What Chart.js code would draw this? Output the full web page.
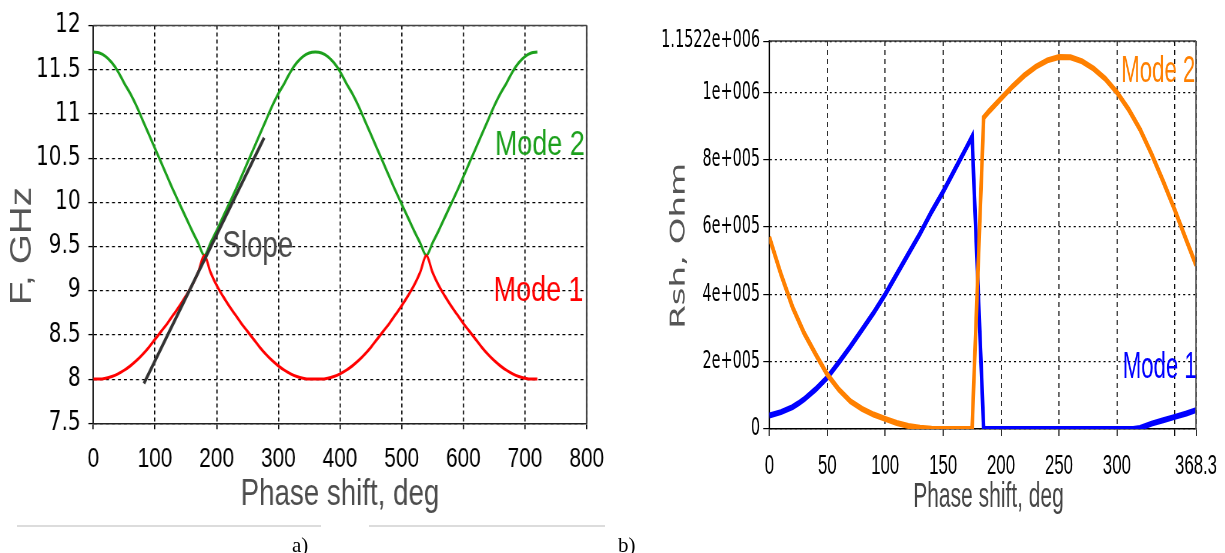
<!DOCTYPE html>
<html><head><meta charset="utf-8">
<script src="https://cdn.jsdelivr.net/npm/chart.js@4.4.1/dist/chart.umd.min.js"></script>
<style>
html,body{margin:0;padding:0;background:#fff;}
body{width:1225px;height:553px;position:relative;overflow:hidden;}
.wrap{position:absolute;top:0;transform-origin:0 0;}
#wa{left:0;width:805px;height:553px;transform:scaleX(0.77);}
#wb{left:630px;width:992px;height:553px;transform:scaleX(0.6);}
.sep{position:absolute;top:525px;height:2px;background:#dcdcdc;}
.lab{position:absolute;font-family:'Liberation Serif','DejaVu Serif',serif;font-size:21px;color:#000;line-height:21px;top:535px;}
</style></head><body>
<div class="wrap" id="wa"><canvas id="ca" width="805" height="553"></canvas></div>
<div class="wrap" id="wb"><canvas id="cb" width="992" height="553"></canvas></div>
<div class="sep" style="left:17px;width:304px"></div>
<div class="sep" style="left:369px;width:236px"></div>
<div class="lab" style="left:292px">a)</div>
<div class="lab" style="left:618px">b)</div>
<script>
// ---------- Chart a data ----------
const phaseA = [0,10,20,30,40,50,60,70,80,90,100,110,120,130,140,150,160,170,180,190,200,210,220,230,240,250,260,270,280,290,300,310,320,330,340,350,360,370,380,390,400,410,420,430,440,450,460,470,480,490,500,510,520,530,540,550,560,570,580,590,600,610,620,630,640,650,660,670,680,690,700,710,720];
const mode1A = [8.00,8.00,8.01,8.03,8.06,8.10,8.15,8.21,8.28,8.36,8.45,8.54,8.63,8.73,8.83,8.94,9.06,9.21,9.40,
  9.21,9.06,8.94,8.83,8.73,8.63,8.54,8.45,8.36,8.28,8.21,8.15,8.10,8.06,8.03,8.01,8.00,8.00,
  8.00,8.01,8.03,8.06,8.10,8.15,8.21,8.28,8.36,8.45,8.54,8.63,8.73,8.83,8.94,9.06,9.21,9.40,
  9.21,9.06,8.94,8.83,8.73,8.63,8.54,8.45,8.36,8.28,8.21,8.15,8.10,8.06,8.03,8.01,8.00,8.00];
const mode2A = [11.70,11.69,11.65,11.58,11.48,11.35,11.23,11.09,10.93,10.77,10.61,10.45,10.29,10.13,9.98,9.83,9.68,9.54,9.40,
  9.54,9.68,9.83,9.98,10.13,10.29,10.45,10.61,10.77,10.93,11.09,11.23,11.35,11.48,11.58,11.65,11.69,11.70,
  11.69,11.65,11.58,11.48,11.35,11.23,11.09,10.93,10.77,10.61,10.45,10.29,10.13,9.98,9.83,9.68,9.54,9.40,
  9.54,9.68,9.83,9.98,10.13,10.29,10.45,10.61,10.77,10.93,11.09,11.23,11.35,11.48,11.58,11.65,11.69,11.70];
const slopePhase = [82, 277];
const slopeF = [7.95, 10.73];
const xTicksA = [0,100,200,300,400,500,600,700,800];
const xTickLabelsA = ['0','100','200','300','400','500','600','700','800'];
const yTicksA = [7.5,8,8.5,9,9.5,10,10.5,11,11.5,12];
const yTickLabelsA = ['7.5','8','8.5','9','9.5','10','10.5','11','11.5','12'];

// ---------- Chart b data ----------
const phaseB1 = [0,10,20,25,30,40,50,60,70,80,90,100,110,120,130,140,150,160,170,175,185,200,250,300,314,320,330,340,350,360,368.3];
const mode1B = [40000,50000,65000,76000,88000,118000,153000,198000,245000,295000,345000,400000,460000,520000,580000,645000,705000,770000,835000,868000,0,0,0,0,0,3000,16000,26000,36000,46000,56000];
const phaseB2 = [0,10,20,30,40,50,60,70,80,90,100,110,120,130,140,150,175,185,190,200,210,220,230,240,250,260,270,280,290,300,310,320,330,340,350,360,368.3];
const mode2B = [570000,460000,362000,285000,222000,162000,117000,82000,60000,43000,30000,18000,9000,4000,1000,0,0,925000,945000,982000,1018000,1050000,1076000,1095000,1105000,1104000,1092000,1070000,1040000,1000000,950000,890000,816000,735000,650000,560000,487000];
const xTicksB = [0,50,100,150,200,250,300,350,368.3];
const xTickLabelsB = ['0','50','100','150','200','250','300','','368.3'];
const yTicksB = [0,200000,400000,600000,800000,1000000,1152200];
const yTickLabelsB = ['0','2e+005','4e+005','6e+005','8e+005','1e+006','1.1522e+006'];

const pts = (xs, ys) => xs.map((x, i) => ({x: x, y: ys[i]}));
const mk = vals => vals.map(v => ({value: v}));

const frameAndLabels = {
  id: 'frameAndLabels',
  afterDraw(chart, args, o) {
    const {ctx, chartArea: a} = chart;
    const xs = chart.scales.x, ys = chart.scales.y;
    ctx.save();
    ctx.setLineDash([]);
    ctx.strokeStyle = o.topColor; ctx.lineWidth = o.topWidth;
    ctx.beginPath(); ctx.moveTo(a.left, a.top); ctx.lineTo(a.right, a.top); ctx.stroke();
    ctx.strokeStyle = o.rightColor; ctx.lineWidth = o.rightWidth;
    ctx.beginPath(); ctx.moveTo(a.right, a.top); ctx.lineTo(a.right, a.bottom); ctx.stroke();
    (o.labels || []).forEach(l => {
      ctx.font = l.font; ctx.fillStyle = l.color;
      ctx.textAlign = 'center'; ctx.textBaseline = 'middle';
      ctx.fillText(l.text, xs.getPixelForValue(l.x), ys.getPixelForValue(l.y));
    });
    ctx.restore();
  }
};

// ---------- Chart a ----------
new Chart(document.getElementById('ca'), {
  type: 'line',
  data: {
    datasets: [
      {label: 'Slope', data: pts(slopePhase, slopeF), borderColor: '#333333', borderWidth: 3.6, pointRadius: 0},
      {label: 'Mode 1', data: pts(phaseA, mode1A), borderColor: '#ff0000', borderWidth: 3, pointRadius: 0, cubicInterpolationMode: 'monotone'},
      {label: 'Mode 2', data: pts(phaseA, mode2A), borderColor: '#1ca01c', borderWidth: 3, pointRadius: 0, cubicInterpolationMode: 'monotone'}
    ]
  },
  options: {
    responsive: false, animation: false, events: [],
    layout: {padding: {left: 0, right: 43.1, top: 24.3, bottom: 0}},
    plugins: {
      legend: {display: false}, tooltip: {enabled: false},
      frameAndLabels: {
        topColor: '#444', topWidth: 1.5, rightColor: '#444', rightWidth: 2,
        labels: [
          {text: 'Mode 2', x: 724, y: 10.65, color: '#1ca01c', font: '35px "Liberation Sans", Arial, sans-serif'},
          {text: 'Mode 1', x: 722, y: 8.99, color: '#ff0000', font: '35px "Liberation Sans", Arial, sans-serif'},
          {text: 'Slope', x: 266.6, y: 9.49, color: '#4a4a4a', font: '36px "Liberation Sans", Arial, sans-serif'}
        ]
      }
    },
    scales: {
      x: {
        type: 'linear', min: 0, max: 800,
        afterBuildTicks: s => { s.ticks = mk(xTicksA); },
        afterFit: s => { s.height = 129.7; },
        ticks: {autoSkip: false, maxRotation: 0, padding: 14.5, color: '#000',
          font: {family: '"Liberation Sans", Arial, sans-serif', size: 27},
          callback: (v, i) => xTickLabelsA[i]},
        grid: {color: '#000', lineWidth: 1.6, tickLength: 6, tickColor: '#000', tickWidth: 1.6},
        border: {display: true, color: '#222', width: 1.6, dash: [4, 3]},
        title: {display: true, text: 'Phase shift, deg', color: '#4d4d4d',
          font: {family: '"Liberation Sans", Arial, sans-serif', size: 36}, padding: {top: 0, bottom: 36}}
      },
      y: {
        type: 'linear', min: 7.5, max: 12,
        afterBuildTicks: s => { s.ticks = mk(yTicksA); },
        afterFit: s => { s.width = 121.2; },
        ticks: {autoSkip: false, padding: 10, color: '#000',
          font: {family: '"DejaVu Sans", sans-serif', size: 26},
          callback: (v, i) => yTickLabelsA[i]},
        grid: {color: '#000', lineWidth: 1.2, tickLength: 6.5, tickColor: '#000', tickWidth: 1.3},
        border: {display: true, color: '#222', width: 2, dash: [3.9, 3.9]},
        title: {display: true, text: 'F, GHz    ', color: '#555',
          font: {family: '"Liberation Sans", Arial, sans-serif', size: 38.8}, padding: {top: 6.2, bottom: 0}}
      }
    }
  },
  plugins: [frameAndLabels]
});

// ---------- Chart b ----------
new Chart(document.getElementById('cb'), {
  type: 'line',
  data: {
    datasets: [
      {label: 'Mode 2', data: pts(phaseB2, mode2B), borderColor: '#ff8000', borderWidth: 6, pointRadius: 0},
      {label: 'Mode 1', data: pts(phaseB1, mode1B), borderColor: '#0000ff', borderWidth: 6, pointRadius: 0}
    ]
  },
  options: {
    responsive: false, animation: false, events: [],
    layout: {padding: {left: 0, right: 39.2, top: 41.1, bottom: 0}},
    plugins: {
      legend: {display: false}, tooltip: {enabled: false},
      frameAndLabels: {
        topColor: '#333', topWidth: 1.5, rightColor: '#555', rightWidth: 2.5,
        labels: [
          {text: 'Mode 2', x: 335.7, y: 1060000, color: '#ff8000', font: '37px "Liberation Sans", Arial, sans-serif'},
          {text: 'Mode 1', x: 337, y: 181000, color: '#0000ff', font: '37px "Liberation Sans", Arial, sans-serif'}
        ]
      }
    },
    scales: {
      x: {
        type: 'linear', min: 0, max: 368.3,
        afterBuildTicks: s => { s.ticks = mk(xTicksB); },
        afterFit: s => { s.height = 124; },
        ticks: {autoSkip: false, maxRotation: 0, padding: 13.6, color: '#000',
          font: {family: '"Liberation Sans", Arial, sans-serif', size: 28},
          callback: (v, i) => xTickLabelsB[i]},
        grid: {color: '#000', lineWidth: 1.7, tickLength: 7, tickColor: '#000', tickWidth: 1.7},
        border: {display: true, color: '#000', width: 1.5, dash: [5, 4]},
        title: {display: true, text: '  Phase shift, deg', color: '#444',
          font: {family: '"Liberation Sans", Arial, sans-serif', size: 35}, padding: {top: 0, bottom: 34.8}}
      },
      y: {
        type: 'linear', min: 0, max: 1152200,
        afterBuildTicks: s => { s.ticks = mk(yTicksB); },
        afterFit: s => { s.width = 232.2; },
        ticks: {autoSkip: false, padding: 5.5, color: '#000',
          font: {family: '"DejaVu Sans", sans-serif', size: 24},
          callback: (v, i) => yTickLabelsB[i]},
        grid: {color: '#000', lineWidth: 1.2, tickLength: 10, tickColor: '#000', tickWidth: 1.2},
        border: {display: true, color: '#000', width: 2.2, dash: [3.3, 5]},
        title: {display: true, text: 'Rsh, Ohm  ', color: '#555',
          font: {family: '"DejaVu Sans", sans-serif', size: 34}, padding: {top: 61.3, bottom: 0}}
      }
    }
  },
  plugins: [frameAndLabels]
});
</script>
</body></html>
